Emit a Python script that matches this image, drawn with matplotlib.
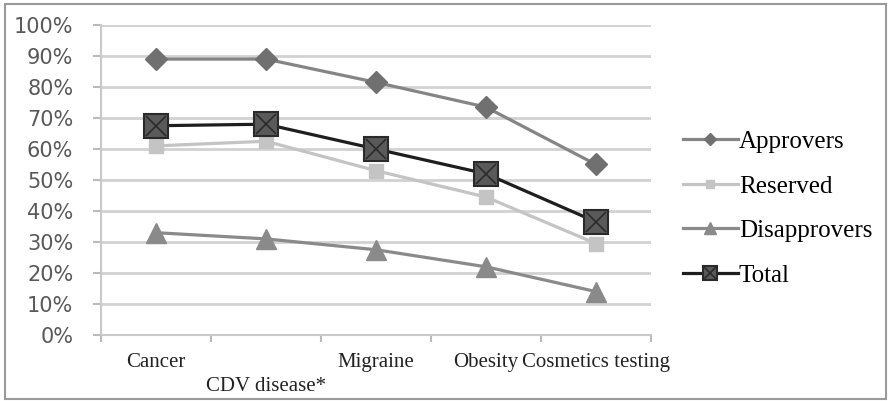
import numpy as np
import matplotlib
matplotlib.use("Agg")
import matplotlib.pyplot as plt
from matplotlib.legend_handler import HandlerTuple

# data (fractions)
categories = ["Cancer", "CDV disease*", "Migraine", "Obesity", "Cosmetics testing"]
approvers = [0.89, 0.89, 0.815, 0.735, 0.55]
reserved = [0.61, 0.625, 0.53, 0.445, 0.295]
disapprovers = [0.33, 0.31, 0.275, 0.22, 0.14]
total = [0.675, 0.68, 0.60, 0.52, 0.365]

x = np.arange(len(categories))

fig = plt.figure(figsize=(8.91, 4.01), dpi=100)
ax = fig.add_axes([0.1134, 0.1646, 0.6172, 0.7731])

# outer frame
fig.patches.append(plt.Rectangle((0.006, 0.006), 0.988, 0.985, transform=fig.transFigure,
                                 fill=False, edgecolor="#9a9a9a", linewidth=1.5))

serif = "Liberation Serif"

l_app, = ax.plot(x, approvers, color="#858585", lw=2.3, marker="D", ms=11,
                 mfc="#707070", mec="#707070", zorder=4)
l_res, = ax.plot(x, reserved, color="#c4c4c4", lw=2.3, marker="s", ms=10,
                 mfc="#c4c4c4", mec="#c4c4c4", zorder=3)
l_dis, = ax.plot(x, disapprovers, color="#8a8a8a", lw=2.3, marker="^", ms=15,
                 mfc="#8a8a8a", mec="#8a8a8a", zorder=3)
l_tot, = ax.plot(x, total, color="#1e1e1e", lw=2.3, marker="s", ms=17,
                 mfc="#5a5a5a", mec="#2a2a2a", mew=1.5, zorder=5)
l_totx, = ax.plot(x, total, ls="none", marker="x", ms=15, mec="#2a2a2a",
                  mew=1.2, zorder=6)

ax.set_xlim(-0.5, len(categories) - 0.5)
ax.set_ylim(0, 1)
ax.set_yticks(np.arange(0, 1.01, 0.1))
ax.set_yticklabels([f"{int(round(v * 100))}%" for v in np.arange(0, 1.01, 0.1)],
                   fontsize=15, color="#595959")
ax.yaxis.grid(True, color="#d2d2d2", lw=2)
ax.set_axisbelow(True)

ax.set_xticks(x)
labels = [c if i % 2 == 0 or i == 3 else "\n" + c for i, c in enumerate(categories)]
ax.set_xticklabels(labels, fontsize=15, family=serif, color="#222222", linespacing=1.35)
ax.tick_params(axis="x", which="major", length=0, pad=13)
ax.set_xticks(np.arange(-0.5, len(categories), 1), minor=True)
ax.tick_params(axis="x", which="minor", length=5, color="#bbbbbb", width=1.5)
ax.tick_params(axis="y", length=6, color="#bbbbbb", width=1.5, pad=14)

for s in ["top", "right"]:
    ax.spines[s].set_visible(False)
for s in ["left", "bottom"]:
    ax.spines[s].set_color("#c8c8c8")
    ax.spines[s].set_linewidth(1.5)

leg = fig.legend([l_app, l_res, l_dis, (l_tot, l_totx)],
                 ["Approvers", "Reserved", "Disapprovers", "Total"],
                 handler_map={tuple: HandlerTuple(ndivide=1)},
                 loc="center left", bbox_to_anchor=(0.741, 0.48), frameon=False,
                 prop={"family": serif, "size": 18}, labelspacing=0.88,
                 handlelength=2.2, handletextpad=0.05, markerscale=0.6)

fig.savefig("out.png", dpi=100)
